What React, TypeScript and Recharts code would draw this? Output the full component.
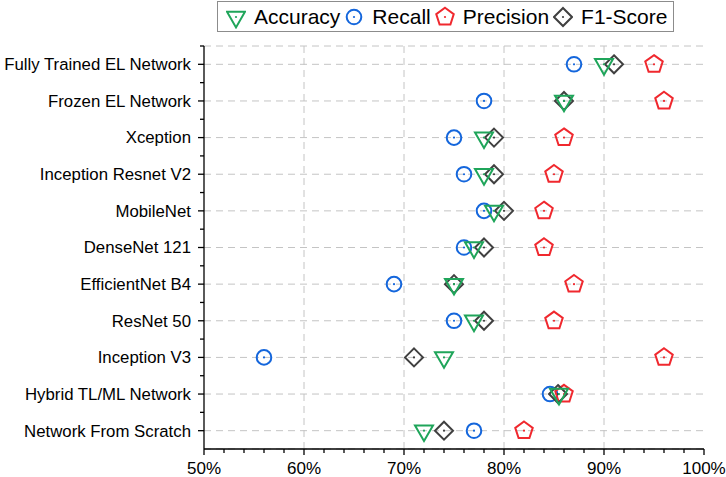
import { CartesianGrid, ComposedChart, Line, XAxis, YAxis } from 'recharts'

const categories = [
  'Fully Trained EL Network',
  'Frozen EL Network',
  'Xception',
  'Inception Resnet V2',
  'MobileNet',
  'DenseNet 121',
  'EfficientNet B4',
  'ResNet 50',
  'Inception V3',
  'Hybrid TL/ML Network',
  'Network From Scratch',
]
const accuracy  = [90, 86, 78, 78, 79, 77, 75, 77, 74, 85.5, 72]
const recall    = [87, 78, 75, 76, 78, 76, 69, 75, 56, 84.6, 77]
const precision = [95, 96, 86, 85, 84, 84, 87, 85, 96, 86, 82]
const f1Score   = [91, 86, 79, 79, 80, 78, 75, 78, 71, 85.4, 74]

const xTicks = [50, 52, 54, 56, 58, 60, 62, 64, 66, 68, 70, 72, 74, 76, 78, 80, 82, 84, 86, 88, 90, 92, 94, 96, 98, 100]
const xGrid = [60, 70, 80, 90]

const W = 726
const H = 477
const PLOT_TOP = 46
const X_AXIS_H = 28
const BAND = (H - PLOT_TOP - X_AXIS_H) / categories.length
const FONT = '"Liberation Sans", Arial, sans-serif'

type Shape = 'triangle' | 'circle' | 'pentagon' | 'diamond'

const series: { key: string; name: string; color: string; shape: Shape }[] = [
  { key: 'accuracy',  name: 'Accuracy',  color: '#1fa55a', shape: 'triangle' },
  { key: 'recall',    name: 'Recall',    color: '#1466dc', shape: 'circle' },
  { key: 'precision', name: 'Precision', color: '#f0282e', shape: 'pentagon' },
  { key: 'f1',        name: 'F1-Score',  color: '#404040', shape: 'diamond' },
]
// drawing order, bottom to top
const drawOrder = ['recall', 'precision', 'f1', 'accuracy']

const data = categories.map((name, i) => ({
  name,
  accuracy: accuracy[i],
  recall: recall[i],
  precision: precision[i],
  f1: f1Score[i],
}))

function Marker({ cx, cy, shape, color }: { cx: number; cy: number; shape: Shape; color: string }) {
  let outline
  if (shape === 'circle') {
    outline = <circle cx={cx} cy={cy} r={7.3} />
  } else if (shape === 'triangle') {
    const h = 15.6
    outline = (
      <polygon points={`${cx - 9},${cy - h / 3} ${cx + 9},${cy - h / 3} ${cx},${cy + (2 * h) / 3}`} />
    )
  } else if (shape === 'pentagon') {
    const r = 9.2
    const pts = [0, 1, 2, 3, 4]
      .map((k) => {
        const a = ((-90 + 72 * k) * Math.PI) / 180
        return `${cx + r * Math.cos(a)},${cy + r * Math.sin(a)}`
      })
      .join(' ')
    outline = <polygon points={pts} />
  } else {
    const d = 9
    outline = <polygon points={`${cx},${cy - d} ${cx + d},${cy} ${cx},${cy + d} ${cx - d},${cy}`} />
  }
  return (
    <g stroke={color} strokeWidth={2} fill="none" strokeLinejoin="miter">
      {outline}
      <circle cx={cx} cy={cy} r={1.1} fill={color} stroke="none" />
    </g>
  )
}

function LegendBox() {
  return (
    <div
      style={{
        position: 'absolute',
        left: 217,
        top: 1,
        height: 31,
        boxSizing: 'border-box',
        border: '1px solid #8c8c8c',
        display: 'flex',
        alignItems: 'center',
        paddingLeft: 8,
        paddingRight: 2,
        whiteSpace: 'nowrap',
        fontFamily: FONT,
      }}
    >
      {series.map((s) => (
        <div key={s.key} style={{ display: 'flex', alignItems: 'center', marginRight: 4 }}>
          <svg width={20} height={24}>
            <Marker cx={10} cy={12} shape={s.shape} color={s.color} />
          </svg>
          <span style={{ marginLeft: 8, fontSize: 21, color: '#000', lineHeight: '24px' }}>{s.name}</span>
        </div>
      ))}
    </div>
  )
}

function XTick(props: any) {
  const { x, y, payload } = props
  const axisY = y - 9
  const major = payload.value % 10 === 0
  return (
    <g>
      <line x1={x} x2={x} y1={axisY} y2={axisY + (major ? 6 : 4)} stroke="#000" strokeWidth={1.3} />
      {major && (
        <text x={x} y={axisY + 25} textAnchor="middle" fontSize={17} fontFamily={FONT} fill="#000">
          {`${payload.value}%`}
        </text>
      )}
    </g>
  )
}

function YTick(props: any) {
  const { x, y, payload } = props
  const axisX = x + 13
  return (
    <g>
      <line x1={axisX - 6} x2={axisX} y1={y} y2={y} stroke="#000" strokeWidth={1.3} />
      <line x1={axisX - 4} x2={axisX} y1={y - BAND / 2} y2={y - BAND / 2} stroke="#000" strokeWidth={1.3} />
      <text x={x} y={y} dy="0.35em" textAnchor="end" fontSize={16.8} fontFamily={FONT} fill="#000">
        {payload.value}
      </text>
    </g>
  )
}

export default function App() {
  return (
    <div style={{ position: 'absolute', left: 0, top: 0, width: W, height: H, background: '#fff' }}>
      <LegendBox />
      <ComposedChart
        width={W}
        height={H}
        data={data}
        layout="vertical"
        margin={{ top: PLOT_TOP, right: 22, bottom: 0, left: 0 }}
      >
        <CartesianGrid stroke="#c4c4c4" strokeDasharray="7 5" verticalValues={xGrid} />
        <XAxis
          type="number"
          domain={[50, 100]}
          ticks={xTicks}
          interval={0}
          height={X_AXIS_H}
          tickSize={6}
          tickMargin={3}
          tickLine={false}
          axisLine={{ stroke: '#000', strokeWidth: 1.3 }}
          tick={<XTick />}
          allowDataOverflow
        />
        <YAxis
          type="category"
          scale="band"
          dataKey="name"
          width={204}
          interval={0}
          tickSize={6}
          tickMargin={7}
          tickLine={false}
          axisLine={{ stroke: '#000', strokeWidth: 1.3 }}
          tick={<YTick />}
        />
        {drawOrder.map((k) => {
          const s = series.find((v) => v.key === k)!
          return (
            <Line
              key={s.key}
              dataKey={s.key}
              name={s.name}
              stroke="none"
              strokeWidth={0}
              isAnimationActive={false}
              activeDot={false}
              legendType="none"
              dot={(p: any) => (
                <Marker key={`${s.key}-${p.index}`} cx={p.cx} cy={p.cy} shape={s.shape} color={s.color} />
              )}
            />
          )
        })}
      </ComposedChart>
    </div>
  )
}
